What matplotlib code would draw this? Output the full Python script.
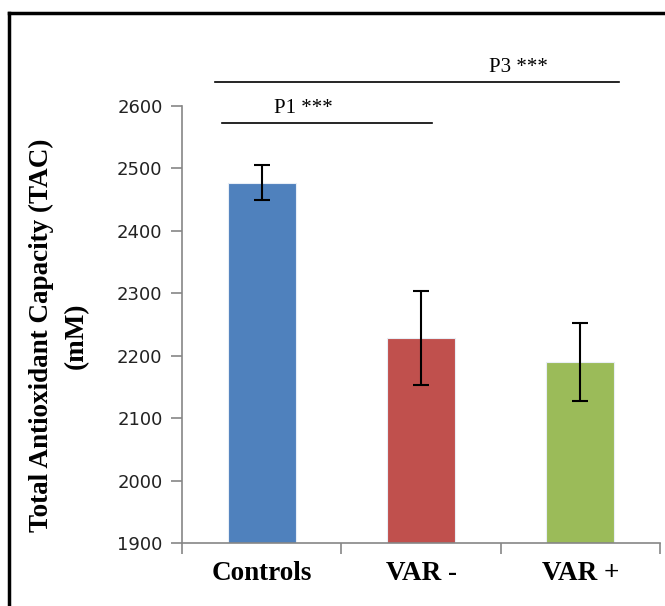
import matplotlib.pyplot as plt
from matplotlib.lines import Line2D

# Données
groupes = ['Controls', 'VAR -', 'VAR +']
valeurs_tac = [2477, 2228, 2190]
erreurs_tac = [28, 75, 62]
couleurs = ['#4F81BD', '#C0504D', '#9BBB59']
graduations_y = [1900, 2000, 2100, 2200, 2300, 2400, 2500, 2600]

# Comparaisons significatives : (debut, fin, hauteur de la ligne, texte)
comparaisons = [
    (-0.25, 1.07, 2573, 'P1 ***'),
    (-0.29, 2.24, 2638, 'P3 ***'),
]

fig = plt.figure(figsize=(6.65, 6.06), dpi=100)
ax = fig.add_axes([0.2737, 0.104, 0.7188, 0.721])

x = range(len(groupes))
ax.bar(x, valeurs_tac, width=0.425, color=couleurs, edgecolor='#e8eef6', linewidth=0.8, zorder=2)
ax.errorbar(x, valeurs_tac, yerr=erreurs_tac, fmt='none', ecolor='black', elinewidth=1.5,
            capsize=6, capthick=1.5, zorder=3)

ax.set_xlim(-0.5, 2.5)
ax.set_ylim(1900, 2600)
ax.set_yticks(graduations_y)
ax.set_yticklabels([str(v) for v in graduations_y], fontsize=13, family='DejaVu Sans', color='#222222')

# Graduations x aux limites des catégories, étiquettes au centre
ax.set_xticks([-0.5, 0.5, 1.5, 2.5])
ax.set_xticklabels([])
ax.set_xticks(list(x), minor=True)
ax.set_xticklabels(groupes, minor=True, fontsize=19.5, fontweight='bold', family='Liberation Serif')
ax.tick_params(axis='x', which='minor', length=0, pad=13)
ax.tick_params(axis='x', which='major', length=8, color='#868686', width=1.2)
ax.tick_params(axis='y', length=8, color='#868686', width=1.2, pad=6)

for s in ['top', 'right']:
    ax.spines[s].set_visible(False)
for s in ['left', 'bottom']:
    ax.spines[s].set_color('#868686')
    ax.spines[s].set_linewidth(1.2)

ax.set_ylabel('Total Antioxidant Capacity (TAC)\n(mM)', fontsize=19.5, fontweight='bold',
              family='Liberation Serif', linespacing=1.5)
ax.yaxis.set_label_coords(-0.195, 0.475)

# Lignes de significativité
for debut, fin, hauteur, texte in comparaisons:
    ax.plot([debut, fin], [hauteur, hauteur], color='black', linewidth=1.2, clip_on=False)
ax.text(0.26, 2581, comparaisons[0][3], fontsize=15, family='Liberation Serif',
        ha='center', va='bottom')
ax.text(1.61, 2646, comparaisons[1][3], fontsize=15, family='Liberation Serif',
        ha='center', va='bottom')

# Cadre noir autour de la figure (haut et gauche)
fig.add_artist(Line2D([9 / 665, 1.0], [1 - 13 / 606, 1 - 13 / 606], color='black', linewidth=2.5,
                      transform=fig.transFigure))
fig.add_artist(Line2D([9 / 665, 9 / 665], [0.0, 1 - 13 / 606], color='black', linewidth=2.5,
                      transform=fig.transFigure))

plt.savefig('out.png', dpi=100)
plt.close()
